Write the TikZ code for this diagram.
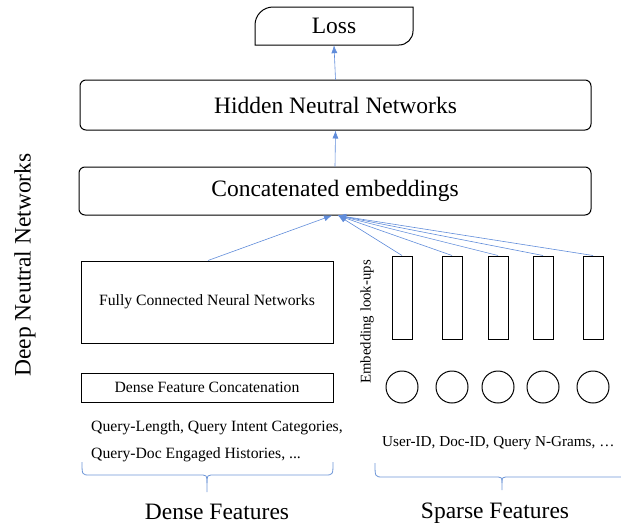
\documentclass[tikz,border=0pt]{standalone}
\usepackage{fontspec}
\setmainfont{Liberation Serif}
\usetikzlibrary{arrows.meta}
\definecolor{arr}{RGB}{96,140,218}
\definecolor{brc}{RGB}{110,150,215}
\begin{document}
\begin{tikzpicture}[x=1pt,y=-1pt,
 big/.style={font=\fontsize{23.5}{28}\selectfont},
 small/.style={font=\fontsize{15.7}{19}\selectfont},
 rbox/.style={draw, line width=1pt, rounded corners=6pt, inner sep=0pt, big},
 sbox/.style={draw, line width=1pt, inner sep=0pt, small},
 emb/.style={draw, line width=1pt, minimum width=20pt, minimum height=83pt, inner sep=0pt},
 inp/.style={draw, circle, line width=1pt, minimum size=32pt, inner sep=0pt},
 conn/.style={arr, line width=0.6pt, -{Latex[length=8pt,width=6pt]}},
 bracepath/.style={brc, line width=0.8pt},
 plain/.style={inner sep=0pt}]
\useasboundingbox (0,0) rectangle (621,525);

% Loss
\node[plain, big, minimum width=158pt, minimum height=38pt] (loss) at (334,26) {Loss};
\draw[line width=1pt] (255,45) -- (255,25) .. controls (255,15.1) and (263.1,7) .. (273,7) -- (413,7) -- (413,31) .. controls (413,38.7) and (406.7,45) .. (399,45) -- cycle;

% main boxes
\node[rbox, minimum width=511pt, minimum height=50pt] (hn) at (335.5,105) {Hidden Neutral Networks};
\node[rbox, minimum width=512pt, minimum height=48pt] (cc) at (335,191) {Concatenated embeddings};

% dense side
\node[sbox, minimum width=252pt, minimum height=82pt] (fc) at (207,302) {Fully Connected Neural Networks};
\node[sbox, minimum width=252pt, minimum height=29pt] (dfc) at (207,387.5) {Dense Feature Concatenation};
\node[plain, small, anchor=west] (q1) at (91,428) {Query-Length, Query Intent Categories,};
\node[plain, small, anchor=west] (q2) at (91,455) {Query-Doc Engaged Histories, ...};

% sparse side
\node[plain, rotate=90, font=\fontsize{14.8}{18}\selectfont] (el) at (367,322) {Embedding look-ups};
\foreach \i/\x in {1/402,2/452,3/498,4/543,5/593}{
  \node[emb] (e\i) at (\x,297.5) {};
  \node[inp] (c\i) at (\x,387) {};
}
\node[plain, font=\fontsize{15.2}{18}\selectfont, anchor=west] (sp) at (382,443) {User-ID, Doc-ID, Query N-Grams, \dots};

% left label
\node[plain, big, rotate=90] (dnn) at (25,265) {Deep Neutral Networks};

% connectors
\draw[conn] (hn.north) -- (loss.south);
\draw[conn] (cc.north) -- (hn.south);
\draw[conn] ([xshift=1pt]fc.north) -- ([xshift=-3pt]cc.south);
\foreach \i in {1,...,5}{
  \draw[conn] (e\i.north) -- ([xshift=3pt]cc.south);
}

% braces
\draw[bracepath] (82,462) .. controls (82,475) .. (90,475) -- (199,475) .. controls (207,475) .. (207,483) -- (207,492);
\draw[bracepath] (207,483) .. controls (207,475) .. (215,475) -- (325,475) .. controls (333,475) .. (333,462);
\draw[bracepath] (375,463) .. controls (375,477) .. (383,477) -- (494,477) .. controls (502,477) .. (502,483) -- (502,490);
\draw[bracepath] (502,483) .. controls (502,477) .. (510,477) -- (621,477);

\node[plain, big] (df) at (217,512) {Dense Features};
\node[plain, big] (sf) at (495,513) {Sparse Features};
\end{tikzpicture}
\end{document}
